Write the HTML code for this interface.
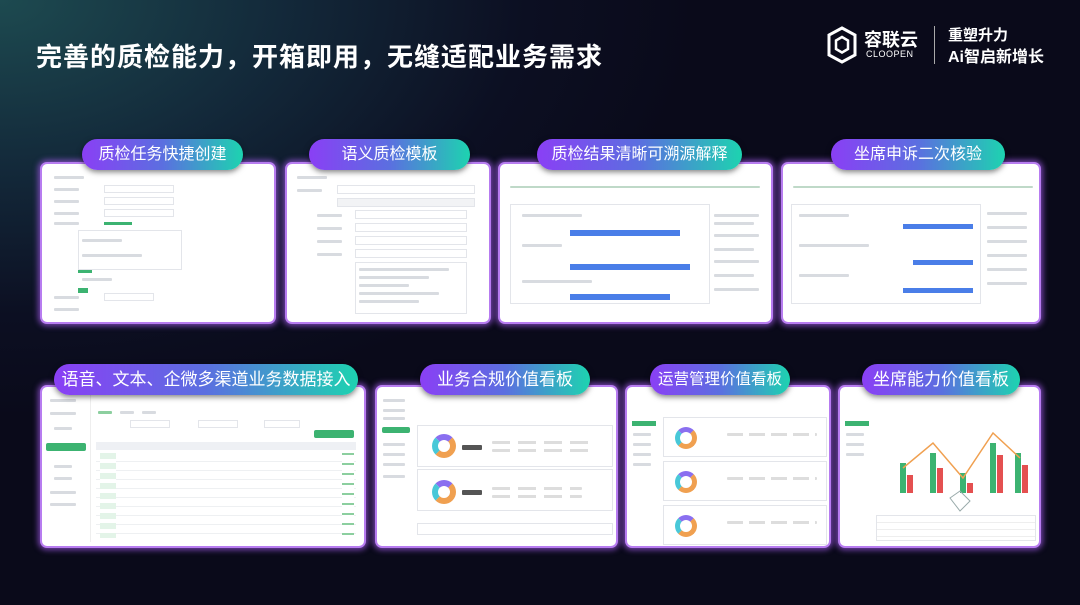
<!DOCTYPE html>
<html><head><meta charset="utf-8"><style>
*{margin:0;padding:0;box-sizing:border-box}
body{width:1080px;height:605px;overflow:hidden;position:relative;font-family:"Liberation Sans","Noto Sans CJK SC",sans-serif;
background:radial-gradient(ellipse 700px 420px at 0px 0px,#1d4a50 0%,#13293a 40%,#0c0f22 75%,#0a0a1a 100%);background-color:#0a0a1a}
.title{position:absolute;left:36px;top:37px;color:#fff;font-size:26px;font-weight:bold;letter-spacing:1px}
.logo{position:absolute;left:826px;top:24px;color:#fff}
.panel{position:absolute;background:#fff;border-radius:7px;border:2px solid #b77cf0;box-shadow:0 0 6px 2px rgba(160,90,230,.7);overflow:hidden}
.pill{position:absolute;height:31px;border-radius:16px;background:linear-gradient(90deg,#8a3ff5 0%,#5b6fe0 50%,#1dd3b0 100%);color:#fff;font-size:16px;text-align:center;line-height:31px;box-shadow:0 2px 6px rgba(0,0,0,.5);z-index:2;white-space:nowrap}
.l{position:absolute;height:3px;background:#d8dbe0;border-radius:1px}
.g{position:absolute;height:3px;background:#3cb371}
.box{position:absolute;border:1px solid #e3e5ea}
.donut{position:absolute;border-radius:50%;border:6px solid #f0a050;border-top-color:#8a6ff0;border-left-color:#48c8d8}
</style></head><body>
<div class="title">完善的质检能力，开箱即用，无缝适配业务需求</div>
<div class="logo">
<svg style="position:absolute;left:0;top:2px" width="32" height="38" viewBox="0 0 32 38"><path d="M16 2 L29 9 L29 29 L16 36 L3 29 L3 9 Z" fill="none" stroke="#fff" stroke-width="3"/><path d="M16 11 L22 14.5 L22 23 L16 26.5 L10 23 L10 14.5 Z" fill="none" stroke="#fff" stroke-width="2.5"/></svg>
<div style="position:absolute;left:38px;top:2px;font-size:18px;font-weight:bold;width:60px">容联云</div>
<div style="position:absolute;left:40px;top:25px;font-size:9px;letter-spacing:.5px">CLOOPEN</div>
<div style="position:absolute;left:108px;top:2px;width:1px;height:38px;background:#aaa"></div>
<div style="position:absolute;left:122px;top:0;font-size:15px;font-weight:bold;width:90px">重塑升力</div>
<div style="position:absolute;left:122px;top:19px;font-size:16px;font-weight:bold;width:110px">Ai智启新增长</div>
</div>

<!-- row1 -->
<div class="pill" style="left:82px;top:139px;width:161px">质检任务快捷创建</div>
<div class="panel" style="left:40px;top:162px;width:236px;height:162px">
<div class="l" style="left:12px;top:12px;width:30px"></div>
<div class="l" style="left:12px;top:24px;width:25px"></div><div class="box" style="left:62px;top:21px;width:70px;height:8px"></div>
<div class="l" style="left:12px;top:36px;width:25px"></div><div class="box" style="left:62px;top:33px;width:70px;height:8px"></div>
<div class="l" style="left:12px;top:48px;width:25px"></div><div class="box" style="left:62px;top:45px;width:70px;height:8px"></div>
<div class="l" style="left:12px;top:58px;width:25px"></div><div class="g" style="left:62px;top:58px;width:28px"></div>
<div class="box" style="left:36px;top:66px;width:104px;height:40px"></div>
<div class="l" style="left:40px;top:75px;width:40px"></div><div class="l" style="left:40px;top:90px;width:60px"></div>
<div class="g" style="left:36px;top:106px;width:14px"></div>
<div class="l" style="left:40px;top:114px;width:30px"></div>
<div class="g" style="left:36px;top:124px;width:10px;height:5px"></div>
<div class="l" style="left:12px;top:132px;width:25px"></div><div class="box" style="left:62px;top:129px;width:50px;height:8px"></div>
<div class="l" style="left:12px;top:144px;width:25px"></div>
</div>

<div class="pill" style="left:309px;top:139px;width:161px">语义质检模板</div>
<div class="panel" style="left:285px;top:162px;width:206px;height:162px">
<div class="l" style="left:10px;top:12px;width:30px"></div>
<div class="l" style="left:10px;top:25px;width:25px"></div><div class="box" style="left:50px;top:21px;width:138px;height:9px"></div>
<div class="box" style="left:50px;top:34px;width:138px;height:9px;background:#f2f3f5"></div>
<div class="l" style="left:30px;top:50px;width:25px"></div><div class="box" style="left:68px;top:46px;width:112px;height:9px"></div>
<div class="l" style="left:30px;top:63px;width:25px"></div><div class="box" style="left:68px;top:59px;width:112px;height:9px"></div>
<div class="l" style="left:30px;top:76px;width:25px"></div><div class="box" style="left:68px;top:72px;width:112px;height:9px"></div>
<div class="l" style="left:30px;top:89px;width:25px"></div><div class="box" style="left:68px;top:85px;width:112px;height:9px"></div>
<div class="box" style="left:68px;top:98px;width:112px;height:52px"></div>
<div class="l" style="left:72px;top:104px;width:90px"></div><div class="l" style="left:72px;top:112px;width:70px"></div><div class="l" style="left:72px;top:120px;width:50px"></div><div class="l" style="left:72px;top:128px;width:80px"></div><div class="l" style="left:72px;top:136px;width:60px"></div>
</div>

<div class="pill" style="left:537px;top:139px;width:205px">质检结果清晰可溯源解释</div>
<div class="panel" style="left:498px;top:162px;width:275px;height:162px">
<div class="l" style="left:10px;top:22px;width:250px;height:2px;background:#bfd9c8"></div>
<div class="box" style="left:10px;top:40px;width:200px;height:100px"></div>
<div style="position:absolute;left:70px;top:66px;width:110px;height:6px;background:#4a7ee8"></div>
<div style="position:absolute;left:70px;top:100px;width:120px;height:6px;background:#4a7ee8"></div>
<div style="position:absolute;left:70px;top:130px;width:100px;height:6px;background:#4a7ee8"></div>
<div class="l" style="left:22px;top:50px;width:60px"></div><div class="l" style="left:22px;top:80px;width:40px"></div><div class="l" style="left:22px;top:116px;width:70px"></div>
<div class="l" style="left:214px;top:50px;width:45px"></div><div class="l" style="left:214px;top:58px;width:40px"></div><div class="l" style="left:214px;top:70px;width:45px"></div><div class="l" style="left:214px;top:84px;width:40px"></div><div class="l" style="left:214px;top:96px;width:45px"></div><div class="l" style="left:214px;top:110px;width:40px"></div><div class="l" style="left:214px;top:124px;width:45px"></div>
</div>

<div class="pill" style="left:831px;top:139px;width:174px">坐席申诉二次核验</div>
<div class="panel" style="left:781px;top:162px;width:260px;height:162px">
<div class="l" style="left:10px;top:22px;width:240px;height:2px;background:#bfd9c8"></div>
<div class="box" style="left:8px;top:40px;width:190px;height:100px"></div>
<div style="position:absolute;left:120px;top:60px;width:70px;height:5px;background:#4a7ee8"></div>
<div style="position:absolute;left:130px;top:96px;width:60px;height:5px;background:#4a7ee8"></div>
<div style="position:absolute;left:120px;top:124px;width:70px;height:5px;background:#4a7ee8"></div>
<div class="l" style="left:16px;top:50px;width:50px"></div><div class="l" style="left:16px;top:80px;width:70px"></div><div class="l" style="left:16px;top:110px;width:50px"></div>
<div class="l" style="left:204px;top:48px;width:40px"></div><div class="l" style="left:204px;top:62px;width:40px"></div><div class="l" style="left:204px;top:76px;width:40px"></div><div class="l" style="left:204px;top:90px;width:40px"></div><div class="l" style="left:204px;top:104px;width:40px"></div><div class="l" style="left:204px;top:118px;width:40px"></div>
</div>

<!-- row2 -->
<div class="pill" style="left:54px;top:364px;width:304px;font-size:17px">语音、文本、企微多渠道业务数据接入</div>
<div class="panel" style="left:40px;top:385px;width:326px;height:163px">
<div style="position:absolute;left:4px;top:56px;width:40px;height:8px;background:#3cb371;border-radius:2px"></div>
<div class="l" style="left:8px;top:12px;width:26px"></div><div class="l" style="left:8px;top:25px;width:26px"></div><div class="l" style="left:12px;top:40px;width:18px"></div><div class="l" style="left:12px;top:78px;width:18px"></div><div class="l" style="left:12px;top:90px;width:18px"></div><div class="l" style="left:8px;top:104px;width:26px"></div><div class="l" style="left:8px;top:116px;width:26px"></div>
<div style="position:absolute;left:48px;top:5px;width:1px;height:150px;background:#eee"></div>
<div class="l" style="left:56px;top:24px;width:14px;background:#8ccf9f"></div><div class="l" style="left:78px;top:24px;width:14px"></div><div class="l" style="left:100px;top:24px;width:14px"></div>
<div class="box" style="left:88px;top:33px;width:40px;height:8px"></div><div class="box" style="left:156px;top:33px;width:40px;height:8px"></div><div class="box" style="left:222px;top:33px;width:36px;height:8px"></div>
<div style="position:absolute;left:272px;top:43px;width:40px;height:8px;background:#3cb371;border-radius:2px"></div>
<div style="position:absolute;left:54px;top:55px;width:260px;height:8px;background:#eef0f4"></div>
<div style="position:absolute;left:54px;top:66px;width:260px;height:85px;background:repeating-linear-gradient(#fff 0 8px,#eef0f2 8px 9px)"></div>
<div style="position:absolute;left:58px;top:66px;width:16px;height:85px;background:repeating-linear-gradient(#e3f4e8 0 6px,#fff 6px 10px)"></div>
<div style="position:absolute;left:300px;top:66px;width:12px;height:85px;background:repeating-linear-gradient(#8ccf9f 0 2px,#fff 2px 10px)"></div>
</div>

<div class="pill" style="left:420px;top:364px;width:170px;font-size:17px">业务合规价值看板</div>
<div class="panel" style="left:375px;top:385px;width:243px;height:163px">
<div style="position:absolute;left:5px;top:40px;width:28px;height:6px;background:#3cb371;border-radius:2px"></div>
<div class="l" style="left:6px;top:12px;width:22px"></div><div class="l" style="left:6px;top:22px;width:22px"></div><div class="l" style="left:6px;top:30px;width:22px"></div><div class="l" style="left:6px;top:56px;width:22px"></div><div class="l" style="left:6px;top:66px;width:22px"></div><div class="l" style="left:6px;top:76px;width:22px"></div><div class="l" style="left:6px;top:88px;width:22px"></div>
<div class="box" style="left:40px;top:38px;width:196px;height:42px"></div>
<div class="box" style="left:40px;top:82px;width:196px;height:42px"></div>
<div class="donut" style="left:55px;top:47px;width:24px;height:24px"></div>
<div class="donut" style="left:55px;top:93px;width:24px;height:24px"></div>
<div class="l" style="left:85px;top:58px;width:20px;height:5px;background:#555"></div><div class="l" style="left:85px;top:103px;width:20px;height:5px;background:#555"></div>
<div class="l" style="left:115px;top:54px;width:100px;background:repeating-linear-gradient(90deg,#ddd 0 18px,#fff 18px 26px)"></div>
<div class="l" style="left:115px;top:62px;width:100px;background:repeating-linear-gradient(90deg,#ddd 0 18px,#fff 18px 26px)"></div>
<div class="l" style="left:115px;top:100px;width:90px;background:repeating-linear-gradient(90deg,#ddd 0 18px,#fff 18px 26px)"></div>
<div class="l" style="left:115px;top:108px;width:90px;background:repeating-linear-gradient(90deg,#ddd 0 18px,#fff 18px 26px)"></div>
<div class="box" style="left:40px;top:136px;width:196px;height:12px"></div>
</div>

<div class="pill" style="left:650px;top:364px;width:140px;font-size:15.5px">运营管理价值看板</div>
<div class="panel" style="left:625px;top:385px;width:206px;height:163px">
<div style="position:absolute;left:5px;top:34px;width:24px;height:5px;background:#3cb371"></div>
<div class="l" style="left:6px;top:46px;width:18px"></div><div class="l" style="left:6px;top:56px;width:18px"></div><div class="l" style="left:6px;top:66px;width:18px"></div><div class="l" style="left:6px;top:76px;width:18px"></div>
<div class="box" style="left:36px;top:30px;width:164px;height:40px"></div>
<div class="box" style="left:36px;top:74px;width:164px;height:40px"></div>
<div class="box" style="left:36px;top:118px;width:164px;height:40px"></div>
<div class="donut" style="left:48px;top:40px;width:22px;height:22px;border-width:5px"></div>
<div class="donut" style="left:48px;top:84px;width:22px;height:22px;border-width:5px"></div>
<div class="donut" style="left:48px;top:128px;width:22px;height:22px;border-width:5px"></div>
<div class="l" style="left:100px;top:46px;width:90px;background:repeating-linear-gradient(90deg,#ddd 0 16px,#fff 16px 22px)"></div>
<div class="l" style="left:100px;top:90px;width:90px;background:repeating-linear-gradient(90deg,#ddd 0 16px,#fff 16px 22px)"></div>
<div class="l" style="left:100px;top:134px;width:90px;background:repeating-linear-gradient(90deg,#ddd 0 16px,#fff 16px 22px)"></div>
</div>

<div class="pill" style="left:862px;top:364px;width:158px;font-size:17px">坐席能力价值看板</div>
<div class="panel" style="left:838px;top:385px;width:203px;height:163px">
<div style="position:absolute;left:5px;top:34px;width:24px;height:5px;background:#3cb371"></div>
<div class="l" style="left:6px;top:46px;width:18px"></div><div class="l" style="left:6px;top:56px;width:18px"></div><div class="l" style="left:6px;top:66px;width:18px"></div>
<svg style="position:absolute;left:40px;top:36px" width="150" height="90">
<g fill="#3cb371"><rect x="20" y="40" width="6" height="30"/><rect x="50" y="30" width="6" height="40"/><rect x="80" y="50" width="6" height="20"/><rect x="110" y="20" width="6" height="50"/><rect x="135" y="30" width="6" height="40"/></g>
<g fill="#e45050"><rect x="27" y="52" width="6" height="18"/><rect x="57" y="45" width="6" height="25"/><rect x="87" y="60" width="6" height="10"/><rect x="117" y="32" width="6" height="38"/><rect x="142" y="42" width="6" height="28"/></g>
<polyline points="23,45 53,20 83,55 113,10 140,35" fill="none" stroke="#f0a050" stroke-width="1.5"/>
<polygon points="70,75 80,68 90,78 80,88" fill="none" stroke="#9aa" stroke-width="1"/>
</svg>
<div class="box" style="left:36px;top:128px;width:160px;height:26px;background:repeating-linear-gradient(#fff 0 6px,#eee 6px 7px)"></div>
</div>
</body></html>
